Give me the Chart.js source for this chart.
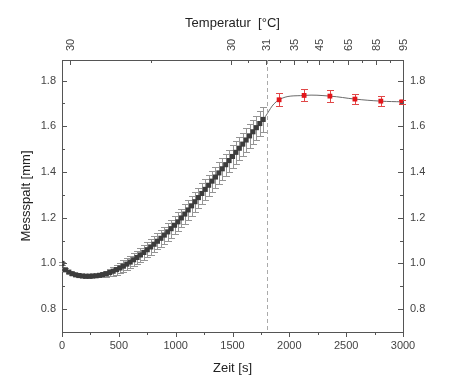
<!DOCTYPE html>
<html>
<head>
<meta charset="utf-8">
<script src="https://cdn.jsdelivr.net/npm/chart.js@4.4.1/dist/chart.umd.min.js"></script>
<style>
  html, body { margin: 0; padding: 0; background: #fff; }
  #wrap { width: 458px; height: 389px; }
</style>
</head>
<body>
<div id="wrap"><canvas id="messChart"></canvas></div>
<script>
// Messdaten (schwarz: Aufheizphase, rot: Temperaturstufen)
const zeitSchwarz = [0, 30, 60, 90, 120, 150, 180, 210, 240, 270, 300, 330, 360, 390, 420, 450, 480, 510, 540, 570,
  600, 630, 660, 690, 720, 750, 780, 810, 840, 870, 900, 930, 960, 990, 1020, 1050, 1080, 1110, 1140, 1170,
  1200, 1230, 1260, 1290, 1320, 1350, 1380, 1410, 1440, 1470, 1500, 1530, 1560, 1590, 1620, 1650, 1680, 1710, 1740, 1770];
const spaltSchwarz = [1.000, 0.972, 0.962, 0.955, 0.950, 0.947, 0.945, 0.944, 0.944, 0.945, 0.946, 0.948, 0.951, 0.955, 0.960, 0.966, 0.973, 0.980, 0.988, 0.997,
  1.006, 1.016, 1.026, 1.037, 1.048, 1.060, 1.072, 1.084, 1.097, 1.110, 1.124, 1.138, 1.152, 1.167, 1.182, 1.199, 1.216, 1.234, 1.252, 1.270,
  1.288, 1.306, 1.324, 1.342, 1.360, 1.378, 1.396, 1.414, 1.432, 1.450, 1.468, 1.486, 1.504, 1.522, 1.540, 1.558, 1.576, 1.594, 1.612, 1.630];
const fehlerSchwarz = [0.006, 0.006, 0.006, 0.006, 0.006, 0.006, 0.006, 0.006, 0.006, 0.006, 0.007, 0.009, 0.011, 0.014, 0.017, 0.020, 0.022, 0.024, 0.025, 0.026,
  0.027, 0.028, 0.029, 0.030, 0.031, 0.032, 0.033, 0.034, 0.035, 0.036, 0.037, 0.038, 0.039, 0.040, 0.041, 0.041, 0.042, 0.042, 0.043, 0.043,
  0.044, 0.044, 0.045, 0.045, 0.046, 0.046, 0.047, 0.047, 0.048, 0.048, 0.049, 0.049, 0.050, 0.050, 0.051, 0.051, 0.052, 0.052, 0.053, 0.053];

const zeitRot = [1910, 2130, 2357, 2577, 2805, 2990];
const spaltRot = [1.716, 1.735, 1.732, 1.719, 1.710, 1.707];
const fehlerRot = [0.028, 0.026, 0.025, 0.023, 0.022, 0.010];

// Achsen
const zeitTicks = [0, 500, 1000, 1500, 2000, 2500, 3000];
const zeitMinor = [250, 750, 1250, 1750, 2250, 2750];
const spaltTicks = [0.8, 1.0, 1.2, 1.4, 1.6, 1.8];
const spaltMinor = [0.7, 0.9, 1.1, 1.3, 1.5, 1.7];
const tempTickZeit = [70, 1486, 1794, 2040, 2260, 2515, 2762, 3000];
const tempTickLabels = ['30', '30', '31', '35', '45', '65', '85', '95'];
const tempMinorZeit = [783, 1639, 1917, 2152, 2387, 2636, 2885];
const trennZeit = 1800;

const achsenFarbe = '#555';
const tickFont = { family: 'Liberation Sans, Arial', size: 11 };
const titelFont = { family: 'Liberation Sans, Arial', size: 13 };

// Fehlerbalken zeichnen
const fehlerbalkenPlugin = {
    id: 'fehlerbalken',
    beforeDatasetDraw(chart, args) {
        const ds = chart.data.datasets[args.index];
        if (!ds.fehler) return;
        const yScale = chart.scales.y;
        const ctx = chart.ctx;
        ctx.save();
        ctx.strokeStyle = ds.fehlerFarbe;
        ctx.lineWidth = 1;
        args.meta.data.forEach((pt, i) => {
            const v = ds.data[i].y;
            const e = ds.fehler[i];
            const x = Math.round(pt.x) + 0.5;
            const y1 = Math.round(yScale.getPixelForValue(v + e)) + 0.5;
            const y2 = Math.round(yScale.getPixelForValue(v - e)) + 0.5;
            ctx.beginPath();
            ctx.moveTo(x, y1); ctx.lineTo(x, y2);
            ctx.moveTo(x - 3.5, y1); ctx.lineTo(x + 3.5, y1);
            ctx.moveTo(x - 3.5, y2); ctx.lineTo(x + 3.5, y2);
            ctx.stroke();
        });
        ctx.restore();
    }
};

// Tickstriche (innen/außen) und gestrichelte Trennlinie
const achsenPlugin = {
    id: 'achsen',
    afterDraw(chart) {
        const ctx = chart.ctx;
        const area = chart.chartArea;
        ctx.save();
        ctx.strokeStyle = achsenFarbe;
        ctx.lineWidth = 1;
        const zeichne = (scale, richtung) => {
            scale.ticks.forEach((t, i) => {
                const len = t.major ? 5 : 3;
                const p = Math.round(scale.getPixelForTick(i)) + 0.5;
                ctx.beginPath();
                if (richtung === 'unten') { ctx.moveTo(p, area.bottom); ctx.lineTo(p, area.bottom + len); }
                if (richtung === 'oben') { ctx.moveTo(p, area.top); ctx.lineTo(p, area.top + len); }
                if (richtung === 'links') { ctx.moveTo(area.left, p); ctx.lineTo(area.left + len, p); }
                if (richtung === 'rechts') { ctx.moveTo(area.right, p); ctx.lineTo(area.right - len, p); }
                ctx.stroke();
            });
        };
        zeichne(chart.scales.x, 'unten');
        zeichne(chart.scales.xTemp, 'oben');
        zeichne(chart.scales.y, 'links');
        zeichne(chart.scales.y2, 'rechts');

        // Trennlinie
        const xs = Math.round(chart.scales.x.getPixelForValue(trennZeit)) + 0.5;
        ctx.strokeStyle = '#aaa';
        ctx.setLineDash([4, 3]);
        ctx.beginPath();
        ctx.moveTo(xs, area.top);
        ctx.lineTo(xs, area.bottom);
        ctx.stroke();
        ctx.restore();
    }
};

function tickListe(major, minor) {
    return major.map(v => ({ value: v, major: true }))
        .concat(minor.map(v => ({ value: v, major: false })))
        .sort((a, b) => a.value - b.value);
}

const punkteSchwarz = zeitSchwarz.map((t, i) => ({ x: t, y: spaltSchwarz[i] }));
const punkteRot = zeitRot.map((t, i) => ({ x: t, y: spaltRot[i] }));

const chartConfig = {
    type: 'scatter',
    data: {
        datasets: [
            {
                label: 'Aufheizen',
                data: punkteSchwarz,
                fehler: fehlerSchwarz,
                fehlerFarbe: '#959595',
                pointStyle: 'rect',
                pointRadius: 3.6,
                backgroundColor: '#3c3c3c',
                borderColor: '#3c3c3c',
                borderWidth: 0,
                showLine: false
            },
            {
                label: 'Stufen',
                data: punkteRot,
                fehler: fehlerRot,
                fehlerFarbe: '#e04848',
                pointStyle: 'rect',
                pointRadius: 3.4,
                backgroundColor: '#e3151a',
                borderColor: '#e3151a',
                borderWidth: 0,
                showLine: false
            },
            {
                label: 'Verlauf',
                data: punkteSchwarz.concat(punkteRot),
                showLine: true,
                pointRadius: 0,
                borderColor: '#6a6a6a',
                borderWidth: 1,
                tension: 0.4
            }
        ]
    },
    options: {
        responsive: true,
        maintainAspectRatio: false,
        animation: false,
        layout: { padding: 0 },
        plugins: { legend: { display: false }, tooltip: { enabled: false } },
        scales: {
            x: {
                type: 'linear', position: 'bottom', min: 0, max: 3000,
                afterBuildTicks: s => { s.ticks = tickListe(zeitTicks, zeitMinor); },
                afterFit: s => { s.height = 57; },
                ticks: {
                    autoSkip: false, maxRotation: 0, padding: 7, color: '#444', font: tickFont,
                    callback: (v) => zeitTicks.includes(v) ? String(v) : ''
                },
                grid: { display: false, drawTicks: false },
                border: { display: true, color: achsenFarbe },
                title: { display: true, text: 'Zeit [s]', color: '#222', font: titelFont, padding: { top: 0, bottom: 13 } }
            },
            xTemp: {
                type: 'linear', position: 'top', min: 0, max: 3000,
                afterBuildTicks: s => { s.ticks = tickListe(tempTickZeit, tempMinorZeit); },
                afterFit: s => { s.height = 60; },
                ticks: {
                    autoSkip: false, minRotation: 90, maxRotation: 90, padding: 9, labelOffset: 14,
                    color: '#444', font: tickFont,
                    callback: (v) => {
                        const i = tempTickZeit.indexOf(v);
                        return i >= 0 ? tempTickLabels[i] : '';
                    }
                },
                grid: { display: false, drawTicks: false },
                border: { display: true, color: achsenFarbe },
                title: { display: true, text: 'Temperatur  [°C]', color: '#222', font: titelFont, padding: { top: 16, bottom: 0 } }
            },
            y: {
                type: 'linear', position: 'left', min: 0.7, max: 1.89,
                afterBuildTicks: s => { s.ticks = tickListe(spaltTicks, spaltMinor); },
                afterFit: s => { s.width = 62; },
                ticks: {
                    autoSkip: false, padding: 6, color: '#444', font: tickFont,
                    callback: (v) => spaltTicks.some(m => Math.abs(m - v) < 1e-6) ? v.toFixed(1) : ''
                },
                grid: { display: false, drawTicks: false },
                border: { display: true, color: achsenFarbe },
                title: { display: true, text: 'Messspalt [mm]', color: '#222', font: titelFont, padding: { top: 19, bottom: 0 } }
            },
            y2: {
                type: 'linear', position: 'right', min: 0.7, max: 1.89,
                afterBuildTicks: s => { s.ticks = tickListe(spaltTicks, spaltMinor); },
                afterFit: s => { s.width = 55; },
                ticks: {
                    autoSkip: false, padding: 7, color: '#444', font: tickFont,
                    callback: (v) => spaltTicks.some(m => Math.abs(m - v) < 1e-6) ? v.toFixed(1) : ''
                },
                grid: { display: false, drawTicks: false },
                border: { display: true, color: achsenFarbe }
            }
        }
    },
    plugins: [fehlerbalkenPlugin, achsenPlugin]
};

document.addEventListener('DOMContentLoaded', function () {
    const canvas = document.getElementById('messChart');
    new Chart(canvas, chartConfig);
});
</script>
</body>
</html>
